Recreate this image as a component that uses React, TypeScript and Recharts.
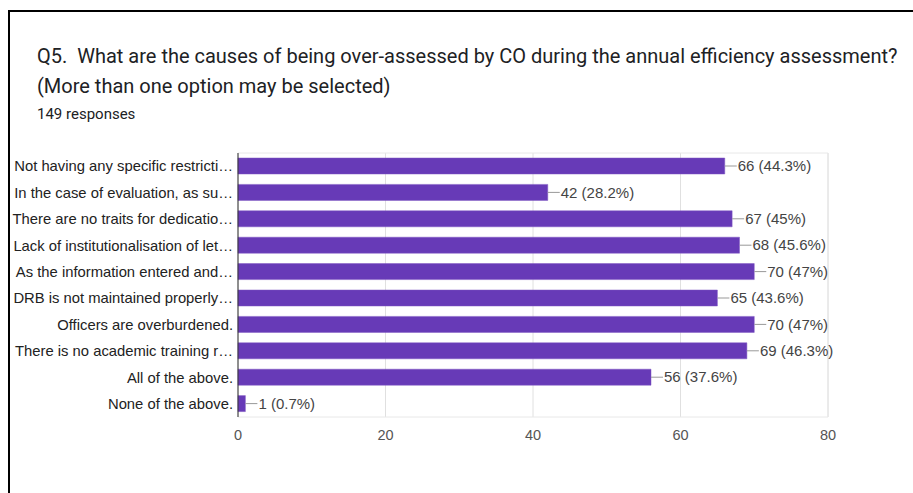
import React from 'react';
import { BarChart, Bar, XAxis, YAxis, CartesianGrid, LabelList, ReferenceArea } from 'recharts';

const categories = [
  'Not having any specific restricti…',
  'In the case of evaluation, as su…',
  'There are no traits for dedicatio…',
  'Lack of institutionalisation of let…',
  'As the information entered and…',
  'DRB is not maintained properly…',
  'Officers are overburdened.',
  'There is no academic training r…',
  'All of the above.',
  'None of the above.',
];
const counts = [66, 42, 67, 68, 70, 65, 70, 69, 56, 1];
const percents = ['44.3%', '28.2%', '45%', '45.6%', '47%', '43.6%', '47%', '46.3%', '37.6%', '0.7%'];
const xTicks = [0, 20, 40, 60, 80];
const minorTicks = [10, 30, 50, 70];

const data = categories.map((c, i) => ({ name: c, value: counts[i], label: `${counts[i]} (${percents[i]})` }));

const FONT = '"Liberation Sans", Arial, sans-serif';

const ValueLabel = (props: any) => {
  const { x, y, width, height, value } = props;
  const ex = x + width;
  const cy = y + height / 2;
  return (
    <g>
      <line x1={ex} y1={cy} x2={ex + 12} y2={cy} stroke="#999" strokeWidth={1} />
      <text x={ex + 13} y={cy} dy="0.35em" fontSize={15} fill="#444" fontFamily={FONT}>
        {value}
      </text>
    </g>
  );
};

export default function App() {
  return (
    <div style={{ position: 'absolute', left: 0, top: 0, width: 913, height: 493, background: '#fff', overflow: 'hidden' }}>
      <div style={{ position: 'absolute', left: 8, top: 10, width: 905, height: 2, background: '#000' }} />
      <div style={{ position: 'absolute', left: 8, top: 10, width: 2, height: 483, background: '#000' }} />
      <div style={{ position: 'absolute', left: 37, top: 41, fontFamily: 'Roboto, sans-serif', fontSize: 20, color: '#202124', lineHeight: '30px', whiteSpace: 'nowrap' }}>
        <div>Q5.&nbsp; What are the causes of being over-assessed by CO during the annual efficiency assessment?</div>
        <div>(More than one option may be selected)</div>
      </div>
      <div style={{ position: 'absolute', left: 37, top: 105, fontFamily: 'Roboto, sans-serif', fontSize: 15, color: '#202124' }}>
        149 responses
      </div>
      <div style={{ position: 'absolute', left: 0, top: 0 }}>
        <BarChart
          width={913}
          height={493}
          data={data}
          layout="vertical"
          margin={{ top: 153, right: 85, bottom: 46, left: 0 }}
          barSize={16}
        >
          <CartesianGrid horizontal={false} stroke="#f2f2f2" xAxisId="minor" />
          <CartesianGrid horizontal={false} stroke="#e0e0e0" />
          <ReferenceArea x1={0} x2={80} fill="none" stroke="#e8e8e8" ifOverflow="visible" />
          <XAxis
            type="number"
            domain={[0, 80]}
            ticks={xTicks}
            axisLine={false}
            tickLine={false}
            tickMargin={7}
            tick={{ fontSize: 14.5, fill: '#555', fontFamily: FONT }}
          />
          <XAxis xAxisId="minor" type="number" domain={[0, 80]} ticks={minorTicks} hide />
          <YAxis
            type="category"
            dataKey="name"
            width={238}
            tickLine={false}
            tickSize={3}
            tickMargin={2}
            interval={0}
            axisLine={{ stroke: '#333' }}
            tick={{ fontSize: 14.8, fill: '#222', fontFamily: FONT }}
          />
          <Bar dataKey="value" fill="#673ab7" stroke="#7e57c2" strokeWidth={0.5} isAnimationActive={false}>
            <LabelList dataKey="label" content={ValueLabel} />
          </Bar>
        </BarChart>
      </div>
    </div>
  );
}
